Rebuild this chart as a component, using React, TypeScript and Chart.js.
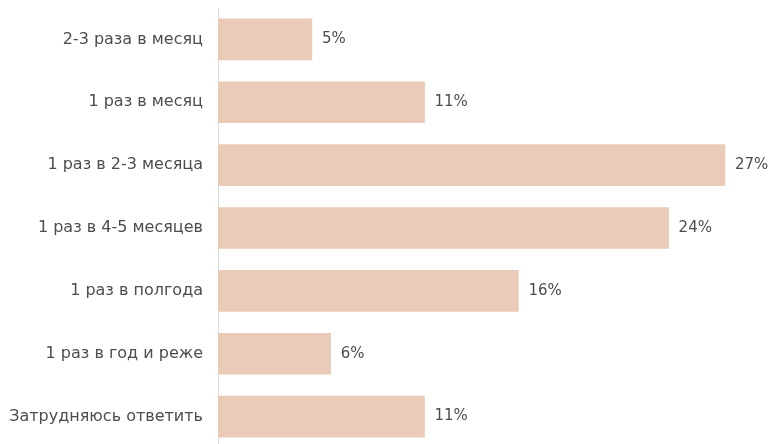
import React, { useEffect, useRef } from "react";
import { Chart, registerables } from "chart.js";

Chart.register(...registerables);

const categories = [
  "2-3 раза в месяц",
  "1 раз в месяц",
  "1 раз в 2-3 месяца",
  "1 раз в 4-5 месяцев",
  "1 раз в полгода",
  "1 раз в год и реже",
  "Затрудняюсь ответить",
];
const values = [5, 11, 27, 24, 16, 6, 11];
const valueLabels = ["5%", "11%", "27%", "24%", "16%", "6%", "11%"];

const FONT = "'DejaVu Sans', sans-serif";
const TEXT = "#4d4d4d";

const valueLabelPlugin = {
  id: "valueLabels",
  afterDatasetsDraw(chart: any) {
    const ctx = chart.ctx;
    const meta = chart.getDatasetMeta(0);
    ctx.save();
    ctx.font = `15px ${FONT}`;
    ctx.fillStyle = TEXT;
    ctx.textAlign = "left";
    ctx.textBaseline = "middle";
    meta.data.forEach((bar: any, i: number) => {
      ctx.fillText(valueLabels[i], bar.x + 10, bar.y);
    });
    ctx.restore();
  },
};

export default function App() {
  const ref = useRef<HTMLCanvasElement | null>(null);
  useEffect(() => {
    document.body.style.margin = "0";
    document.body.style.overflow = "hidden";
    const chart = new Chart(ref.current!, {
      type: "bar",
      data: {
        labels: categories,
        datasets: [
          {
            data: values,
            backgroundColor: "#e9cbb7",
            barThickness: 41,
          },
        ],
      },
      options: {
        indexAxis: "y",
        animation: false,
        responsive: false,
        maintainAspectRatio: false,
        layout: { padding: { top: 8, right: 0, left: 0, bottom: 0 } },
        plugins: { legend: { display: false }, tooltip: { enabled: false } },
        scales: {
          x: {
            min: 0,
            max: 29.4,
            display: false,
          },
          y: {
            afterFit(scale: any) {
              scale.width = 218;
              scale.paddingTop = 0;
              scale.paddingBottom = 0;
            },
            grid: { display: false, drawTicks: false },
            border: { display: true, color: "#dcdcdc", width: 1 },
            ticks: {
              color: TEXT,
              padding: 15,
              font: { family: FONT, size: 16 },
            },
          },
        },
      },
      plugins: [valueLabelPlugin],
    });
    return () => chart.destroy();
  }, []);
  return (
    <div style={{ position: "absolute", left: 0, top: 0, width: 770, height: 448 }}>
      <canvas ref={ref} width={770} height={448} style={{ width: 770, height: 448 }} />
    </div>
  );
}
